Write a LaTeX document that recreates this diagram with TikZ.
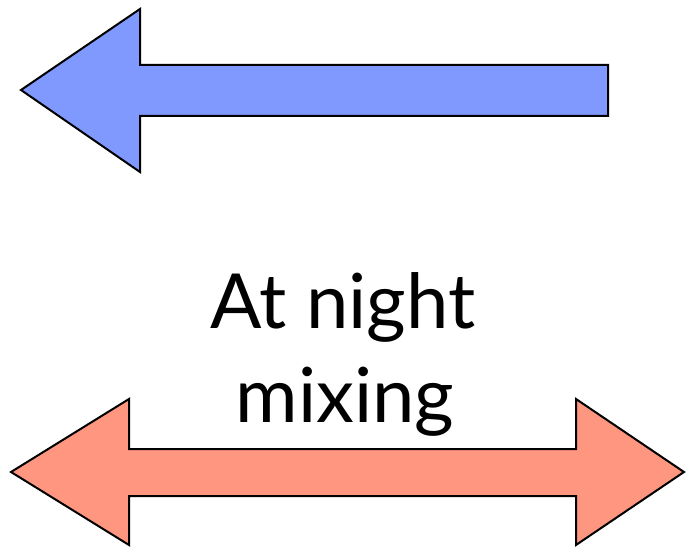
\documentclass[tikz,border=0pt]{standalone}
\usepackage{fontspec}
\setmainfont{Lato}
\definecolor{arrowblue}{RGB}{128,153,255}
\definecolor{arrowred}{RGB}{255,150,128}
\begin{document}
\begin{tikzpicture}[x=1pt,y=-1pt,
  shapeline/.style={draw=black,line width=2pt,line join=miter},
  label/.style={font=\fontsize{76}{94}\selectfont,align=center,inner sep=0pt,anchor=base}]
\useasboundingbox (0,0) rectangle (686,548);
\fill[white] (0,0) rectangle (686,548);
% blue left arrow
\draw[shapeline,fill=arrowblue] (21,90) -- (140,9) -- (140,65) -- (608,65) -- (608,116) -- (140,116) -- (140,172) -- cycle;
% red double arrow
\draw[shapeline,fill=arrowred] (11,472) -- (129,399) -- (129,449) -- (576,449) -- (576,399) -- (684,472) -- (576,545) -- (576,496) -- (129,496) -- (129,545) -- cycle;
\node[label] (t1) at (343,328) {At night};
\node[label] (t2) at (345,422) {mixing};
\end{tikzpicture}
\end{document}
